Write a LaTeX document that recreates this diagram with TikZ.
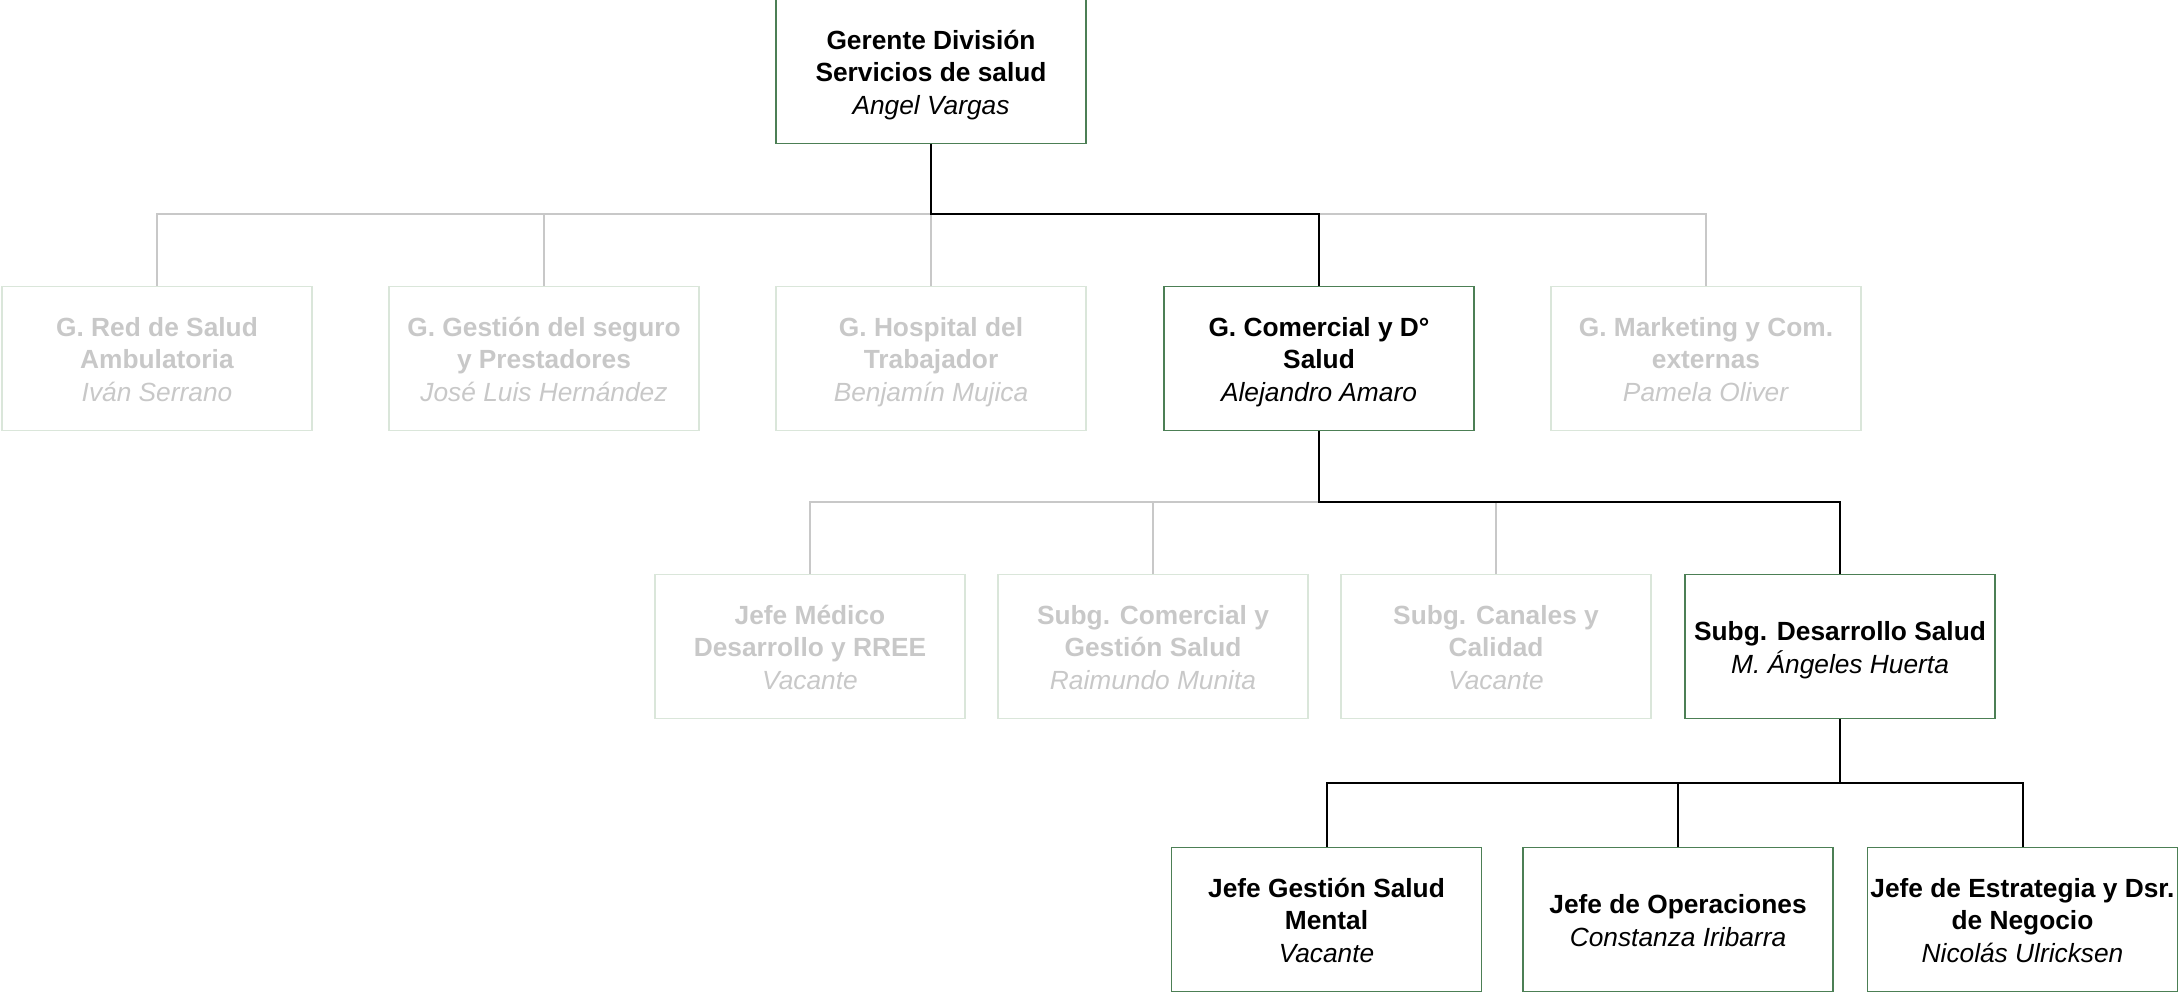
\documentclass[tikz,border=0pt]{standalone}
\usepackage{fontspec}
\setmainfont{Liberation Sans}
\usepackage{xcolor}
\definecolor{boxgreen}{HTML}{4C7F55}
\definecolor{palegreen}{HTML}{DAE6DA}
\definecolor{palegrey}{HTML}{C8C8C8}
\usetikzlibrary{positioning}
\newcommand{\cargotxt}[1]{\raisebox{-2pt}[\height][\depth]{\begin{tabular}{@{}c@{}}#1\end{tabular}}}
\tikzset{
    cargo/.style={
           rectangle,
           draw=boxgreen, line width=0.75pt,
           minimum width=155pt,
           minimum height=72pt,
           inner sep=0pt,
           text centered,
           font=\fontsize{13.15}{16.1}\selectfont
           },
    cargooff/.style={
           cargo,
           draw=palegreen,
           text=palegrey
           },
    linea/.style={draw=black, line width=1pt},
    lineaoff/.style={draw=palegrey, line width=1pt},
}

\begin{document}
\begin{tikzpicture}
    \useasboundingbox (0,0) rectangle (1089.5pt,-497pt);

    \node[cargo] (GER) at (465.5pt,-35.75pt)
        {\cargotxt{
          \textbf{Gerente División}\\
          \textbf{Servicios de salud}\\
          \textit{Angel Vargas}
         }};

    % gerencias
    \node[cargooff,
          below of=GER,
          node distance=143.5pt,
          anchor=center] (HOS)
        {\cargotxt{
          \textbf{G. Hospital del}\\
          \textbf{Trabajador}\\
          \textit{Benjamín Mujica}
         }};
    \node[cargooff, left of=HOS, node distance=193.5pt, anchor=center] (GSP)
        {\cargotxt{
          \textbf{G. Gestión del seguro}\\
          \textbf{y Prestadores}\\
          \textit{José Luis Hernández}
         }};
    \node[cargooff, left of=GSP, node distance=193.5pt, anchor=center] (RED)
        {\cargotxt{
          \textbf{G. Red de Salud}\\
          \textbf{Ambulatoria}\\
          \textit{Iván Serrano}
         }};
    \node[cargo, right of=HOS, node distance=194pt, anchor=center] (COM)
        {\cargotxt{
          \textbf{G. Comercial y D°}\\
          \textbf{Salud}\\
          \textit{Alejandro Amaro}
         }};
    \node[cargooff, right of=COM, node distance=193.5pt, anchor=center] (MKT)
        {\cargotxt{
          \textbf{G. Marketing y Com.}\\
          \textbf{externas}\\
          \textit{Pamela Oliver}
         }};

    % subgerencias
    \node[cargo,
          below of=COM,
          node distance=144pt,
          anchor=center,
          xshift=260.5pt] (SDS)
        {\cargotxt{
          \textbf{Subg. Desarrollo Salud}\\
          \textit{M. Ángeles Huerta}
         }};
    \node[cargooff, left of=SDS, node distance=172pt, anchor=center] (CAN)
        {\cargotxt{
          \textbf{Subg. Canales y}\\
          \textbf{Calidad}\\
          \textit{Vacante}
         }};
    \node[cargooff, left of=CAN, node distance=171.5pt, anchor=center] (CGS)
        {\cargotxt{
          \textbf{Subg. Comercial y}\\
          \textbf{Gestión Salud}\\
          \textit{Raimundo Munita}
         }};
    \node[cargooff, left of=CGS, node distance=171.5pt, anchor=center] (JME)
        {\cargotxt{
          \textbf{Jefe Médico}\\
          \textbf{Desarrollo y RREE}\\
          \textit{Vacante}
         }};

    % jefaturas
    \node[cargo,
          below of=SDS,
          node distance=136.5pt,
          anchor=center,
          xshift=-81pt] (OPS)
        {\cargotxt{
          \textbf{Jefe de Operaciones}\\
          \textit{Constanza Iribarra}
         }};
    \node[cargo, left of=OPS, node distance=175.75pt, anchor=center] (MEN)
        {\cargotxt{
          \textbf{Jefe Gestión Salud}\\
          \textbf{Mental}\\
          \textit{Vacante}
         }};
    \node[cargo, right of=OPS, node distance=172.25pt, anchor=center] (EST)
        {\cargotxt{
          \textbf{Jefe de Estrategia y Dsr.}\\
          \textbf{de Negocio}\\
          \textit{Nicolás Ulricksen}
         }};

    \coordinate (bus1) at (0,-107pt);
    \coordinate (bus2) at (0,-251pt);
    \coordinate (bus3) at (0,-391.5pt);

    % lineas
    \draw[lineaoff] (RED.north) -- (RED.north |- bus1) -- (MKT.north |- bus1) -- (MKT.north);
    \draw[lineaoff] (GSP.north) -- (GSP.north |- bus1);
    \draw[lineaoff] (HOS.north) -- (HOS.north |- bus1);
    \draw[linea] (GER.south) -- (GER.south |- bus1) -| (COM.north);

    \draw[lineaoff] (JME.north) -- (JME.north |- bus2) -- (COM.south |- bus2);
    \draw[lineaoff] (CGS.north) -- (CGS.north |- bus2);
    \draw[lineaoff] (CAN.north) -- (CAN.north |- bus2);
    \draw[linea] (COM.south) -- (COM.south |- bus2) -| (SDS.north);

    \draw[linea] (SDS.south) -- (SDS.south |- bus3);
    \draw[linea] (MEN.north) -- (MEN.north |- bus3) -| (EST.north);
    \draw[linea] (OPS.north) -- (OPS.north |- bus3);

\end{tikzpicture}
\end{document}
